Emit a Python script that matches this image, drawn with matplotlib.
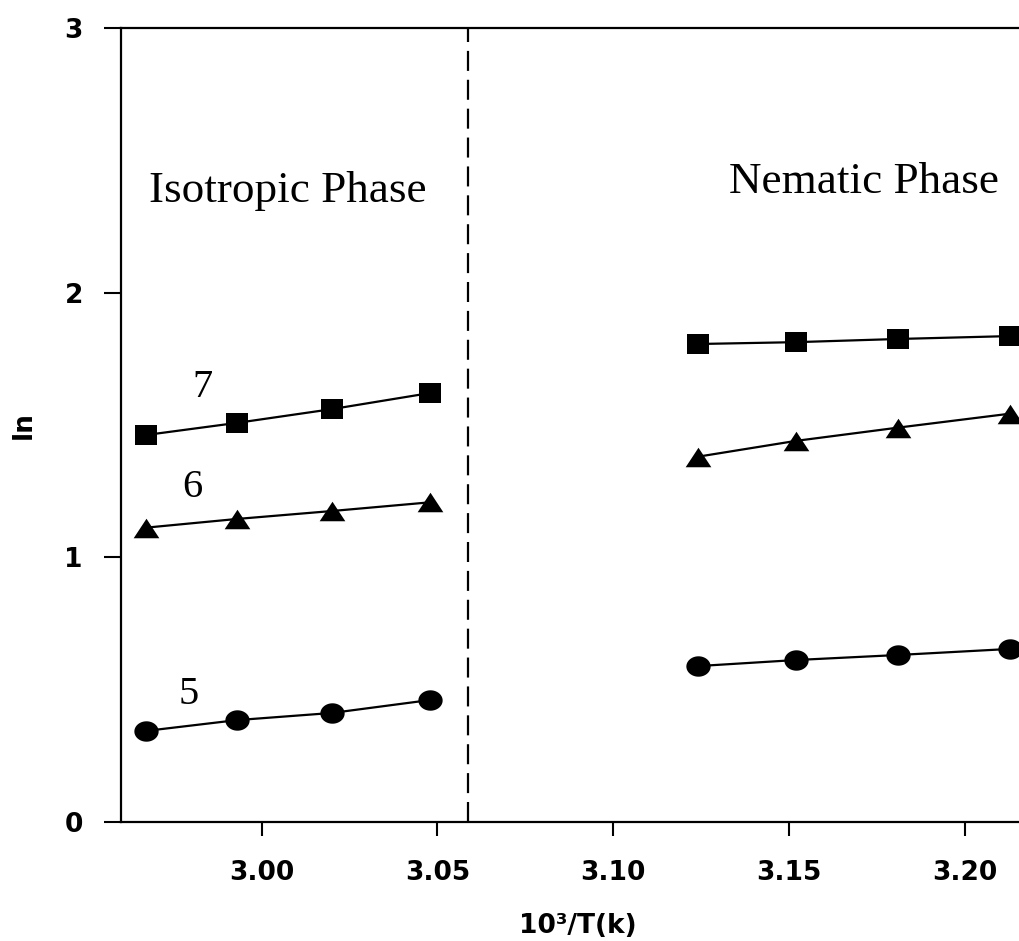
import numpy as np
import matplotlib
matplotlib.use("Agg")
import matplotlib.pyplot as plt

# ---- data ----
x_iso = [2.967, 2.993, 3.020, 3.048]
x_nem = [3.124, 3.152, 3.181, 3.213]

iso_7 = [1.462, 1.508, 1.560, 1.621]
iso_6 = [1.112, 1.145, 1.175, 1.208]
iso_5 = [0.344, 0.385, 0.412, 0.461]

nem_7 = [1.806, 1.813, 1.825, 1.836]
nem_6 = [1.380, 1.440, 1.490, 1.543]
nem_5 = [0.589, 0.612, 0.631, 0.654]

transition_x = 3.0588
x_ticks = [3.00, 3.05, 3.10, 3.15, 3.20]
x_tick_labels = ["3.00", "3.05", "3.10", "3.15", "3.20"]
y_ticks = [0, 1, 2, 3]
y_tick_labels = ["0", "1", "2", "3"]

curve_labels = ["7", "6", "5"]
curve_label_pos = [(2.9833, 1.643), (2.9802, 1.262), (2.9793, 0.480)]

# ---- marker shapes (slightly wide, as in the reference) ----
sq_marker = [(-1.15, -1.0), (1.15, -1.0), (1.15, 1.0), (-1.15, 1.0), (-1.15, -1.0)]
tri_marker = [(0.0, 0.76), (-1.0, -0.76), (1.0, -0.76), (0.0, 0.76)]
t = np.linspace(0, 2 * np.pi, 60)
circ_marker = list(zip(1.0 * np.cos(t), 0.84 * np.sin(t)))

fig = plt.figure(figsize=(10.20, 9.41), dpi=100)
ax = fig.add_axes([121 / 1020, 1 - 822 / 941, 914 / 1020, (822 - 28) / 941])

lw = 1.6
for xs, ys, mk, ms in [
    (x_iso, iso_7, sq_marker, 16.5),
    (x_iso, iso_6, tri_marker, 18.5),
    (x_iso, iso_5, circ_marker, 17.5),
    (x_nem, nem_7, sq_marker, 16.5),
    (x_nem, nem_6, tri_marker, 18.5),
    (x_nem, nem_5, circ_marker, 17.5),
]:
    ax.plot(xs, ys, color="black", lw=lw, marker=mk, markersize=ms,
            markerfacecolor="black", markeredgewidth=0, clip_on=False)

ax.axvline(transition_x, color="black", lw=1.6, dashes=(9, 4))

ax.set_xlim(2.96, 3.22)
ax.set_ylim(0, 3)

ax.set_xticks(x_ticks)
ax.set_xticklabels(x_tick_labels)
ax.set_yticks(y_ticks)
ax.set_yticklabels(y_tick_labels)

for lab in ax.get_xticklabels() + ax.get_yticklabels():
    lab.set_fontfamily("DejaVu Sans")
    lab.set_fontweight("bold")
    lab.set_fontsize(19)

ax.tick_params(axis="x", direction="out", length=10, width=1.5, pad=17)
ax.tick_params(axis="y", direction="out", length=12.5, width=1.5, pad=15)

for s in ["left", "bottom", "top", "right"]:
    ax.spines[s].set_linewidth(1.6)

ax.set_xlabel("10³/T(k)", fontsize=19, fontweight="bold",
              family="DejaVu Sans", labelpad=20)
ax.set_ylabel("ln", fontsize=19, fontweight="bold",
              family="DejaVu Sans", labelpad=20)

serif = ["Liberation Serif", "DejaVu Serif"]
ax.text(3.0075, 2.342, "Isotropic Phase", fontsize=32.5, family=serif,
        ha="center", va="baseline")
ax.text(3.1714, 2.376, "Nematic Phase", fontsize=32.5, family=serif,
        ha="center", va="baseline")

for lab, (lx, ly) in zip(curve_labels, curve_label_pos):
    ax.text(lx, ly, lab, fontsize=29, family=serif, ha="center", va="center")

fig.savefig("out.png", dpi=100)
